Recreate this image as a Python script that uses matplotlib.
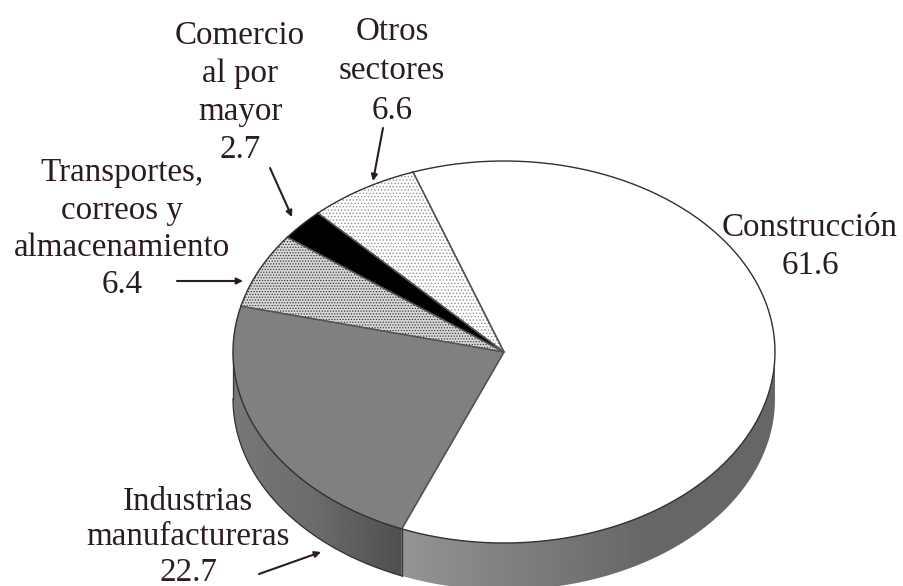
import numpy as np
import matplotlib
matplotlib.use("Agg")
import matplotlib.pyplot as plt
from matplotlib.patches import Polygon

plt.rcParams['font.family'] = ['Liberation Serif', 'DejaVu Serif']
plt.rcParams['hatch.linewidth'] = 0.6

sectors = ["Construcción", "Industrias\nmanufactureras", "Transportes,\ncorreos y\nalmacenamiento",
           "Comercio\nal por\nmayor", "Otros\nsectores"]
values = [61.6, 22.7, 6.4, 2.7, 6.6]
label_x = [810, 188, 122, 240, 392]
label_y = [212, 486, 158, 21, 16]
line_gap = [1.32, 1.22, 1.28, 1.31, 1.4]
arrow_from = [None, (259, 574), (177, 281), (270, 168), (383, 128)]
arrow_to = [None, (321, 552), (243, 281), (292, 217), (373, 181)]

cx, cy, rx, ry = 504, 352, 271, 191
depth = 47
start = 109.6

fills = ["white", "#808080", "#d8d8d8", "black", "white"]
hatches = [None, None, "......", None, "....."]
hatch_cols = [None, None, "#383838", None, "#909090"]


def ell(a, dy=0):
    a = np.radians(a)
    return np.column_stack([cx + rx * np.cos(a), cy - ry * np.sin(a) + dy])


fig = plt.figure(figsize=(9.04, 5.86), dpi=100)
ax = fig.add_axes([0, 0, 1, 1])

sweep = np.array(values) / sum(values) * 360
edges = start - np.concatenate([[0], np.cumsum(sweep)])

# side of the disc, one gradient per front slice
side_parts = [(0, edges[1], [0.40, 0.40, 0.49, 0.58], None),
              (edges[1], -180, [0.47, 0.42, 0.31], "#303030")]
for a0, a1, grays, line_col in side_parts:
    t = np.linspace(a0, a1, 200)
    pts = np.vstack([ell(t), ell(t[::-1], depth)])
    poly = Polygon(pts, closed=True, fc="none", ec="none")
    ax.add_patch(poly)
    x0, x1 = pts[:, 0].min(), pts[:, 0].max()
    col = np.interp(np.linspace(0, 1, 256), np.linspace(0, 1, len(grays)), grays)
    if a0 == 0:
        col = col[::-1]
    img = ax.imshow(col[None, :], extent=[x0, x1, 586, 300], cmap="gray", vmin=0, vmax=1,
                    aspect="auto", zorder=1)
    img.set_clip_path(poly)
    if line_col:
        ax.plot(ell(t, depth)[:, 0], ell(t, depth)[:, 1], color=line_col, lw=0.9, zorder=2)

ax.set_xlim(0, 904)
ax.set_ylim(586, 0)
ax.axis("off")

# divider and left edge on the side
px, py = ell(edges[1])[0]
ax.plot([px, px], [py, py + depth], color="#333333", lw=0.9, zorder=2)
lx, ly = ell(180)[0]
ax.plot([lx, lx], [ly, ly + depth], color="#333333", lw=0.9, zorder=2)

# top face
for i in range(len(values)):
    t = np.linspace(edges[i], edges[i + 1], 120)
    pts = np.vstack([[cx, cy], ell(t)])
    ax.add_patch(Polygon(pts, closed=True, fc=fills[i], ec="none", zorder=3))
    if hatches[i]:
        ax.add_patch(Polygon(pts, closed=True, fc="none", ec=hatch_cols[i], lw=0,
                             hatch=hatches[i], zorder=3.5))
    ax.plot(pts[[1, 0, -1], 0], pts[[1, 0, -1], 1], color="#555555", lw=1.0, zorder=4)
    ax.plot(pts[1:, 0], pts[1:, 1], color="#303030", lw=1.0, zorder=4)

# labels
for i, s in enumerate(sectors):
    ax.text(label_x[i], label_y[i], s + "\n" + str(values[i]), ha="center", va="top",
            fontsize=23.8, color="#2b1b22", linespacing=line_gap[i], zorder=5)
    if arrow_from[i]:
        ax.annotate("", xy=arrow_to[i], xytext=arrow_from[i], zorder=5,
                    arrowprops=dict(arrowstyle="-|>", color="#2b1b22", lw=1.5,
                                    mutation_scale=9, shrinkA=0, shrinkB=0))

fig.savefig("out.png", dpi=100, facecolor="white")
